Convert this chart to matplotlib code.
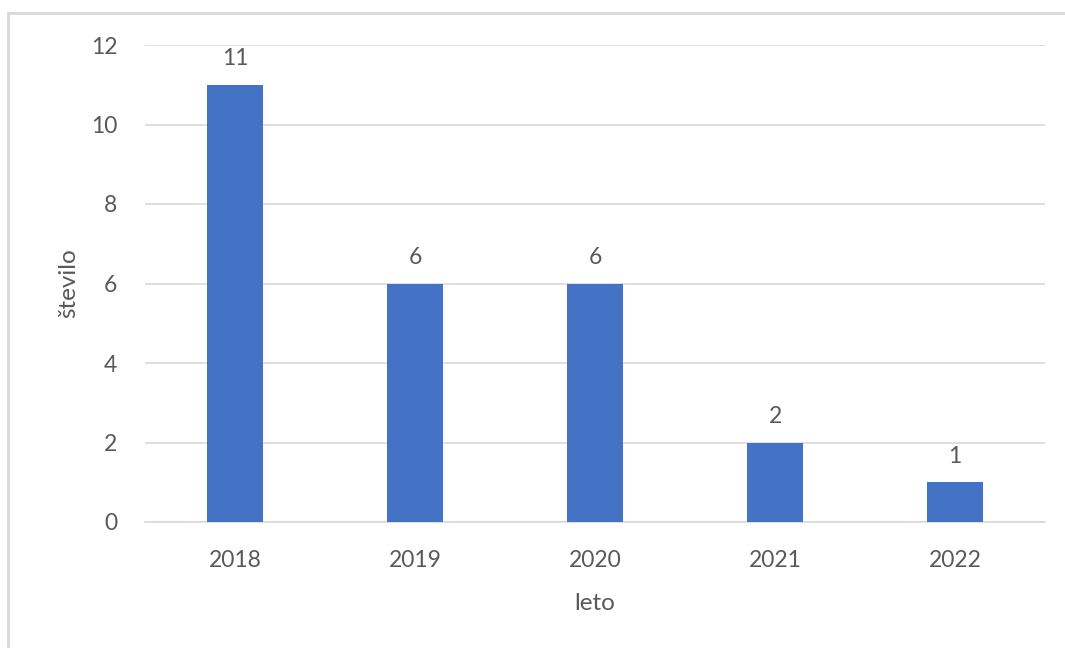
import matplotlib.pyplot as plt
from matplotlib.lines import Line2D

years = ['2018', '2019', '2020', '2021', '2022']
counts = [11, 6, 6, 2, 1]

plt.rcParams['font.family'] = ['Lato', 'DejaVu Sans']
txt = '#595959'

fig = plt.figure(figsize=(10.65, 6.48), dpi=100)
ax = fig.add_axes([145/1065, 1-522/648, 900/1065, 477/648])

x = range(len(years))
bars = ax.bar(x, counts, width=0.31, color='#4472C4', zorder=3)
ax.bar_label(bars, padding=11, fontsize=16.5, color=txt)

ax.set_xlim(-0.5, len(years) - 0.5)
ax.set_ylim(0, 12)
ax.set_yticks(range(0, 13, 2))
ax.set_xticks(list(x))
ax.set_xticklabels(years)
ax.grid(axis='y', color='#D9D9D9', linewidth=1.2, zorder=0)
for s in ['top', 'right', 'left']:
    ax.spines[s].set_visible(False)
ax.spines['bottom'].set_color('#D9D9D9')
ax.spines['bottom'].set_linewidth(1.2)
ax.tick_params(length=0, labelsize=16.5, colors=txt)
ax.tick_params(axis='y', pad=20)
ax.tick_params(axis='x', pad=20)
ax.set_xlabel('leto', fontsize=17.5, color=txt, labelpad=16)
ax.set_ylabel('število', fontsize=17.5, color=txt, labelpad=8)

# chart frame (left and top edges visible)
fig.add_artist(Line2D([8/1065, 8/1065], [0, 1-13/648], transform=fig.transFigure, color='#D9D9D9', lw=2))
fig.add_artist(Line2D([8/1065, 1], [1-13/648, 1-13/648], transform=fig.transFigure, color='#D9D9D9', lw=2))

fig.savefig('out.png', dpi=100)
